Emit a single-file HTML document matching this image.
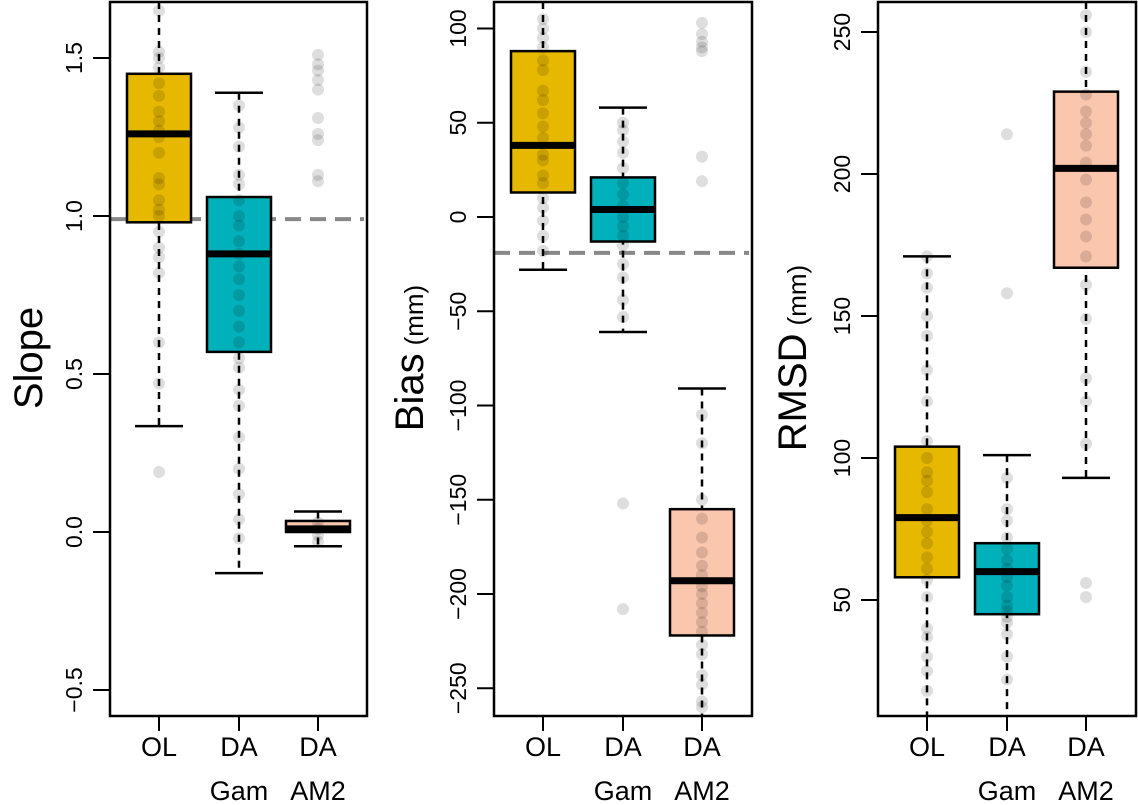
<!DOCTYPE html>
<html><head><meta charset="utf-8"><style>
body{margin:0;background:#fff}
svg{display:block;font-family:"Liberation Sans",sans-serif}
</style></head><body>
<svg id="c" width="1138" height="805"></svg>
<script>
const groups = ["OL", "DA|Gam", "DA|AM2"];
const colors = ["#e6b800", "#00b0bb", "#fbc6ae"];
// per panel: [q1, median, q3, whiskerLow, whiskerHigh]
const slopeStats = [[0.98,1.26,1.45,0.335,1.75],[0.57,0.88,1.06,-0.13,1.39],[0.0,0.01,0.035,-0.045,0.065]];
const biasStats = [[13,38,88,-28,120],[-13,4,21,-61,58],[-222,-193,-155,-265,-91]];
const rmsdStats = [[58,79,104,0,171],[45,60,70,0,101],[167,202,229,93,265]];
const slopePts = [[1.65,1.52,1.5,1.47,1.42,1.38,1.33,1.3,1.27,1.25,1.2,1.12,1.1,1.05,1.02,1.0,0.95,0.9,0.87,0.82,0.6,0.47,0.19],
  [1.35,1.28,1.22,1.13,1.1,1.05,1.0,0.97,0.92,0.88,0.84,0.8,0.75,0.7,0.65,0.6,0.55,0.52,0.45,0.4,0.3,0.2,0.12,0.04,-0.02],
  [1.51,1.48,1.46,1.43,1.4,1.31,1.26,1.24,1.13,1.11,0.03,0.01,-0.01,-0.03]];
const biasPts = [[105,100,95,90,83,78,67,62,55,48,42,33,30,22,18,10,5,-2,-10,-18],
  [50,46,40,34,26,18,12,6,0,-5,-10,-15,-25,-32,-44,-53,-152,-208],
  [103,97,93,90,88,32,19,-105,-120,-150,-160,-170,-178,-185,-190,-196,-200,-205,-210,-215,-220,-227,-232,-243,-248,-257,-260]];
const rmsdPts = [[171,165,160,150,143,131,120,106,100,95,92,88,82,78,74,70,65,61,57,51,40,37,30,25,18],
  [214,158,93,82,78,72,68,64,61,58,55,51,48,46,44,42,38,30,22],
  [256,250,236,228,222,218,214,210,204,198,190,184,178,171,161,149,128,120,105,56,51]];
const slopeTicks = [-0.5,0,0.5,1,1.5];
const biasTicks = [-250,-200,-150,-100,-50,0,50,100];
const rmsdTicks = [50,100,150,200,250];

const NS="http://www.w3.org/2000/svg", svg=document.getElementById('c');
function el(t,a,p){const e=document.createElementNS(NS,t);for(const k in a)e.setAttribute(k,a[k]);(p||svg).appendChild(e);return e;}

function panel(cfg){
  const g=el('g',{});
  
  
  const y=v=>cfg.y0-(v-cfg.v0)*cfg.k;
  const ticks=cfg.ticks, fmt=cfg.fmt;
  ticks.forEach(t=>{
    const ty=y(t);
    el('line',{x1:cfg.left-17,x2:cfg.left,y1:ty,y2:ty,stroke:'#000','stroke-width':2},g);
    const tx=el('text',{x:cfg.left-28,y:ty,transform:`rotate(-90 ${cfg.left-28} ${ty})`,'text-anchor':'middle','font-size':23,fill:'#000'},g);
    tx.textContent=fmt(t);
    
    
  });
  if(cfg.ref!==undefined){
    const l=el('line',{x1:cfg.left,x2:cfg.right-3,y1:y(cfg.ref),y2:y(cfg.ref),stroke:'#888','stroke-width':4,'stroke-dasharray':'16,9'},g);
    
    
  }
  cfg.stats.forEach((s,i)=>{
    const cx=cfg.xs[i], hw=32, cap=24;
    const [q1,med,q3,lo,hi]=s;
    const bg=el('g',{},g);
    
    
    el('line',{x1:cx,x2:cx,y1:Math.max(y(hi),cfg.top),y2:Math.min(y(lo),cfg.bottom),stroke:'#000','stroke-width':2.5,'stroke-dasharray':'7,6'},bg);
    if(y(hi)>cfg.top) el('line',{x1:cx-cap,x2:cx+cap,y1:y(hi),y2:y(hi),stroke:'#000','stroke-width':2.5},bg);
    if(y(lo)<cfg.bottom) el('line',{x1:cx-cap,x2:cx+cap,y1:y(lo),y2:y(lo),stroke:'#000','stroke-width':2.5},bg);
    el('rect',{x:cx-hw,y:y(q3),width:2*hw,height:y(q1)-y(q3),fill:colors[i],stroke:'#000','stroke-width':2.5},bg);
    el('line',{x1:cx-hw,x2:cx+hw,y1:y(med),y2:y(med),stroke:'#000','stroke-width':7},bg);
    cfg.pts[i].forEach(p=>{
      const c=el('circle',{cx:cx,cy:y(p),r:6,fill:'#000','fill-opacity':0.13},bg);
      
      
    });
    el('line',{x1:cx,x2:cx,y1:cfg.bottom,y2:cfg.bottom+15,stroke:'#000','stroke-width':2},g);
    const parts=groups[i].split('|');
    parts.forEach((p,j)=>{
      const t=el('text',{x:cx,y:756+j*44,'text-anchor':'middle','font-size':27,fill:'#000'},g);
      t.textContent=p;
      
      
    });
  });
  const f=el('rect',{x:cfg.left,y:cfg.top,width:cfg.right-cfg.left,height:cfg.bottom-cfg.top,fill:'none',stroke:'#000','stroke-width':2.5},g);
  
  
  const tt=el('text',{x:cfg.tx,y:cfg.tyc,transform:`rotate(-90 ${cfg.tx} ${cfg.tyc})`,'text-anchor':'middle',fill:'#000'},g);
  
  
  const a=el('tspan',{'font-size':40},tt); a.textContent=cfg.title;
  if(cfg.unit){const b=el('tspan',{'font-size':26,dx:8},tt); b.textContent=cfg.unit;}
}
panel({name:'slope',left:110,right:367,top:2,bottom:716,y0:532,v0:0,k:316,ticks:slopeTicks,fmt:t=>t.toFixed(1).replace('-','\u2212'),
  ref:0.99,stats:slopeStats,pts:slopePts,xs:[159,239,318],title:'Slope',tx:42,tyc:358});
panel({name:'bias',left:494,right:752,top:2,bottom:716,y0:217,v0:0,k:1.885,ticks:biasTicks,fmt:t=>String(t).replace('-','\u2212'),
  ref:-19,stats:biasStats,pts:biasPts,xs:[543,623,702],title:'Bias',unit:'(mm)',tx:423,tyc:358});
panel({name:'rmsd',left:878,right:1136,top:2,bottom:716,y0:600,v0:50,k:2.84,ticks:rmsdTicks,fmt:t=>String(t),
  stats:rmsdStats,pts:rmsdPts,xs:[927,1007,1086],title:'RMSD',unit:'(mm)',tx:806,tyc:358});
</script>
</body></html>
